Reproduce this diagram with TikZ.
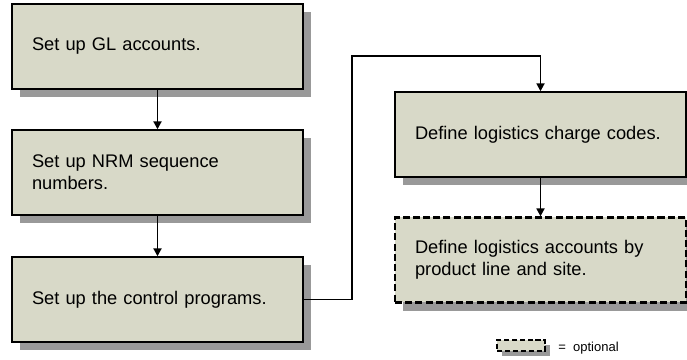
\documentclass[tikz,border=0pt]{standalone}
\usepackage{fontspec}
\setmainfont{Liberation Sans}
\usetikzlibrary{shadows,arrows.meta}
\definecolor{stepfill}{RGB}{216,217,200}
\tikzset{
  task/.style={draw, line width=0.8pt, fill=stepfill, minimum width=5.82cm, minimum height=1.70cm,
    text width=5.02cm, inner xsep=0.4cm, align=left, font=\fontsize{10.4}{12.5}\selectfont,
    drop shadow={shadow xshift=0.16cm, shadow yshift=-0.17cm, fill=black!40, opacity=1}},
  opttask/.style={task, line width=1.3pt, dash pattern=on 4pt off 1.8pt},
  legbox/.style={draw, fill=stepfill, line width=1.3pt, dash pattern=on 3pt off 1.5pt,
    minimum width=0.96cm, minimum height=0.22cm, inner sep=0pt,
    drop shadow={shadow xshift=0.1cm, shadow yshift=-0.1cm, fill=black!40, opacity=1}},
  flow/.style={line width=1.1pt, -{Triangle[length=4.5pt,width=4.5pt]}}
}

\begin{document}
\begin{tikzpicture}
\useasboundingbox (0,0) rectangle (13.74,7.20);
% left column
\node[task] (gl) at (3.15,6.27) {Set up GL accounts.};
\node[task] (nrm) at (3.15,3.75) {Set up NRM sequence\\numbers.};
\node[task] (ctrl) at (3.15,1.21) {Set up the control programs.};
% right column
\node[task] (charge) at (10.81,4.51) {Define logistics charge codes.};
\node[opttask] (acct) at (10.81,2.00) {Define logistics accounts by\\product line and site.};
\coordinate (bend) at (7.04,6.08);
\draw[flow] (gl) -- (nrm);
\draw[flow] (nrm) -- (ctrl);
\draw[flow] (ctrl.east) -| (bend) -| (charge.north);
\draw[flow] (charge) -- (acct);
% legend
\node[legbox] (legend) at (10.42,0.29) {};
\node[anchor=base west, font=\fontsize{7.4}{9}\selectfont, inner sep=0pt] (legtext) at (11.16,0.16) {=\ \ optional};
\end{tikzpicture}
\end{document}
